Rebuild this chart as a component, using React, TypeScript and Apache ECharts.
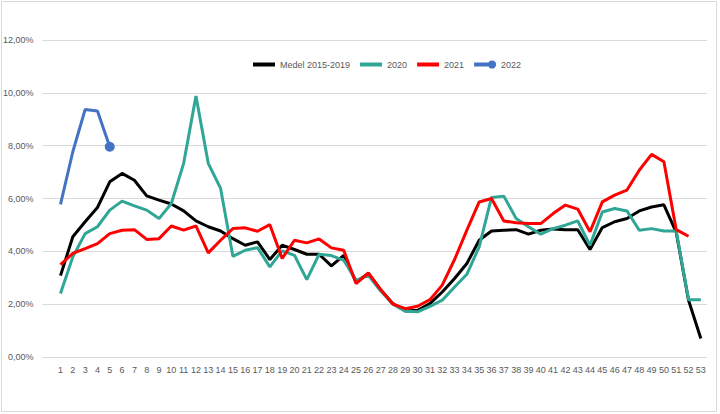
import React, { useEffect, useRef } from "react";
import * as echarts from "echarts";

const weeks = Array.from({ length: 53 }, (_, i) => i + 1);
const yTicks = [0, 2, 4, 6, 8, 10, 12];

const medel = [
  3.08, 4.55, 5.12, 5.66, 6.63, 6.95, 6.69, 6.1, 5.94, 5.79, 5.53, 5.15, 4.93, 4.77, 4.48, 4.23, 4.36, 3.69, 4.23, 4.07,
  3.89, 3.89, 3.45, 3.85, 2.84, 3.16, 2.55, 2.02, 1.74, 1.77, 2.02, 2.46, 2.97, 3.54, 4.42, 4.77, 4.8, 4.82, 4.65, 4.8,
  4.85, 4.82, 4.82, 4.07, 4.9, 5.12, 5.24, 5.53, 5.68, 5.76, 4.72, 2.15, 0.7,
];
const y2020 = [
  2.4, 3.79, 4.67, 4.93, 5.56, 5.9, 5.72, 5.56, 5.24, 5.81, 7.33, 9.88, 7.33, 6.38, 3.81, 4.04, 4.14, 3.41, 4.02, 3.85,
  2.93, 3.89, 3.84, 3.66, 2.9, 3.09, 2.5, 2.0, 1.73, 1.71, 1.92, 2.15, 2.65, 3.13, 4.17, 6.04, 6.09, 5.24, 4.93, 4.65,
  4.86, 4.99, 5.15, 4.23, 5.49, 5.62, 5.53, 4.8, 4.86, 4.77, 4.77, 2.17, 2.17,
];
const y2021 = [
  3.5, 3.92, 4.1, 4.29, 4.67, 4.8, 4.82, 4.45, 4.48, 4.96, 4.8, 4.96, 3.94, 4.42, 4.86, 4.89, 4.76, 5.01, 3.73, 4.42,
  4.32, 4.47, 4.13, 4.04, 2.78, 3.18, 2.55, 2.0, 1.83, 1.92, 2.17, 2.72, 3.69, 4.8, 5.87, 6.0, 5.15, 5.08, 5.05, 5.05,
  5.43, 5.75, 5.6, 4.74, 5.87, 6.13, 6.32, 7.07, 7.67, 7.39, 4.82, 4.57,
];
const y2022 = [5.78, 7.77, 9.37, 9.31, 7.96];

const names = ["Medel 2015-2019", "2020", "2021", "2022"];
const colors = ["#000000", "#30a696", "#ff0000", "#4472c4"];

const lineIcon = "path://M0,3L22,3L22,7L0,7Z";
const dotIcon = "path://M0,2.5L17.5,2.5L17.5,7.5L0,7.5Z M17,5A5,5,0,1,1,27,5A5,5,0,1,1,17,5Z";

export default function App() {
  const ref = useRef<HTMLDivElement>(null);
  useEffect(() => {
    if (!ref.current) return;
    const chart = echarts.init(ref.current, null, { renderer: "svg" });
    const toPairs = (arr: number[]) => arr.map((v, i) => [weeks[i], v]);
    const all = [medel, y2020, y2021, y2022];
    chart.setOption({
      animation: false,
      backgroundColor: "#ffffff",
      textStyle: { fontFamily: "Liberation Sans, Arial, sans-serif" },
      grid: { left: 40, right: 13, top: 40, bottom: 57, containLabel: false },
      graphic: [
        {
          type: "rect",
          shape: { x: 1.5, y: 1.5, width: 715, height: 410 },
          style: { fill: "none", stroke: "#d9d9d9", lineWidth: 1 },
          silent: true,
        },
      ],
      legend: {
        top: 55,
        left: 248,
        itemWidth: 22,
        itemHeight: 10,
        itemGap: 10,
        textStyle: { color: "#595959", fontSize: 9 },
        data: names.map((n, i) => ({ name: n, icon: i === 3 ? dotIcon : lineIcon })),
      },
      xAxis: {
        type: "value",
        min: -0.46,
        max: 53.5,
        splitLine: { show: false },
        axisLine: { show: false },
        axisTick: { show: false },
        axisLabel: {
          customValues: weeks,
          color: "#595959",
          fontSize: 9,
          margin: 8,
          formatter: (v: number) => String(v),
        },
      },
      yAxis: {
        type: "value",
        min: 0,
        max: 12,
        interval: 2,
        axisLine: { show: false },
        axisTick: { show: false },
        splitLine: { lineStyle: { color: "#d9d9d9", width: 1 } },
        axisLabel: {
          color: "#595959",
          fontSize: 9,
          margin: 9,
          customValues: yTicks,
          formatter: (v: number) => v.toFixed(2).replace(".", ",") + "%",
        },
      },
      series: all.map((arr, i) => ({
        name: names[i],
        type: "line",
        data: toPairs(arr),
        color: colors[i],
        lineStyle: { color: colors[i], width: 3 },
        itemStyle: { color: colors[i] },
        symbol: i === 3 ? "circle" : "none",
        symbolSize: i === 3 ? (_v: any, p: any) => (p.dataIndex === arr.length - 1 ? 10 : 0) : 0,
        showSymbol: i === 3,
        smooth: false,
        z: 2 + i,
      })),
    });
    return () => chart.dispose();
  }, []);
  return (
    <div
      ref={ref}
      style={{ position: "fixed", left: 0, top: 0, width: 720, height: 414, background: "#fff" }}
    />
  );
}
